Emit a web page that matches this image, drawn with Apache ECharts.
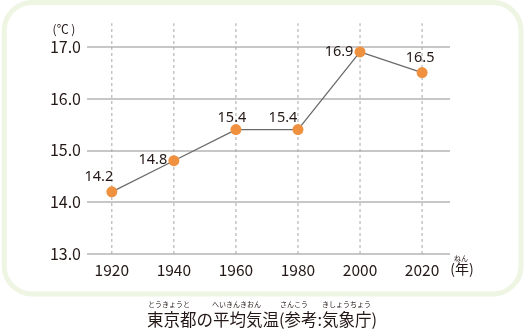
<!DOCTYPE html>
<html>
<head>
<meta charset="utf-8">
<script src="https://cdn.jsdelivr.net/npm/echarts@6/dist/echarts.min.js"></script>
<style>html,body{margin:0;padding:0;background:#fff}#c{width:525px;height:334px}</style>
</head>
<body>
<div id="c"></div>
<script>
const years = [1920, 1940, 1960, 1980, 2000, 2020];
const temps = [14.2, 14.8, 15.4, 15.4, 16.9, 16.5];
const yTicks = [13, 14, 15, 16, 17];
const title = '東京都の平均気温(参考:気象庁)';
const unitY = '(℃ )';
const unitX = '(年)';

const labelOffsets = [[-13, -15], [-21, -1], [-4, -12], [-15, -12], [-21, 0], [-2, -15]];

const chart = echarts.init(document.getElementById('c'));
const jp = '"Noto Sans CJK JP", "Noto Sans", sans-serif';
const ruby = (t, x, y) => ({type: 'text', x: x, y: y, style: {text: t, fill: '#231815', font: '7px ' + jp, textAlign: 'center', textVerticalAlign: 'middle'}});
const yMin = yTicks[0], yMax = yTicks[yTicks.length - 1];

chart.setOption({
  animation: false,
  backgroundColor: '#fff',
  grid: {left: 87, right: 75, top: 46.7, bottom: 80},
  xAxis: {
    type: 'value', min: 1912, max: 2029,
    axisLine: {show: false}, axisTick: {show: false}, splitLine: {show: false},
    axisLabel: {customValues: years, formatter: v => String(v), margin: 8, fontSize: 15.5, color: '#231815', fontFamily: jp}
  },
  yAxis: {
    type: 'value', min: yMin, max: yMax, interval: 1,
    axisLine: {show: false}, axisTick: {show: false},
    splitLine: {lineStyle: {color: '#b4b4b4', width: 1.6}},
    axisLabel: {formatter: v => v.toFixed(1), margin: 6, fontSize: 16, color: '#231815', fontFamily: jp}
  },
  graphic: [
    {type: 'rect', z: -10, shape: {x: 4.2, y: 2.5, width: 516.8, height: 291.5, r: 28}, style: {fill: '#fff', stroke: '#eef5e3', lineWidth: 5}},
    {type: 'text', x: 64, y: 29, style: {text: unitY, font: '12px ' + jp, fill: '#231815', textAlign: 'center', textVerticalAlign: 'middle'}},
    {type: 'text', x: 462, y: 269, style: {text: unitX, font: '14px ' + jp, fill: '#231815', textAlign: 'center', textVerticalAlign: 'middle'}},
    ruby('ねん', 461, 258),
    {type: 'text', x: 262, y: 319.5, style: {text: title, font: '16.5px ' + jp, fill: '#231815', textAlign: 'center', textVerticalAlign: 'middle'}},
    ruby('とうきょうと', 169, 304.5),
    ruby('へいきんきおん', 236.5, 304.5),
    ruby('さんこう', 294, 304.5),
    ruby('きしょうちょう', 346.5, 304.5)
  ],
  series: [
    {
      type: 'custom', z: 1, clip: false, silent: true,
      data: years.map(y => [y]),
      encode: {x: 0},
      renderItem: (params, api) => {
        const p0 = api.coord([api.value(0), yMin]);
        const p1 = api.coord([api.value(0), yMax]);
        return {
          type: 'line',
          shape: {x1: p0[0], y1: p0[1], x2: p1[0], y2: p1[1] - 23.5},
          style: {stroke: '#a8a8a8', lineWidth: 1, lineDash: [3, 3]}
        };
      }
    },
    {
      type: 'line', z: 3, clip: false,
      data: years.map((y, i) => ({
        value: [y, temps[i]],
        label: {offset: labelOffsets[i]}
      })),
      lineStyle: {color: '#6b6b6b', width: 1.3},
      symbol: 'circle', symbolSize: 11,
      itemStyle: {color: '#f0913f', borderWidth: 0},
      label: {show: true, position: 'inside', formatter: p => p.value[1].toFixed(1), fontSize: 14.5, color: '#231815', fontFamily: '"Noto Sans", sans-serif'}
    }
  ]
});
</script>
</body>
</html>
